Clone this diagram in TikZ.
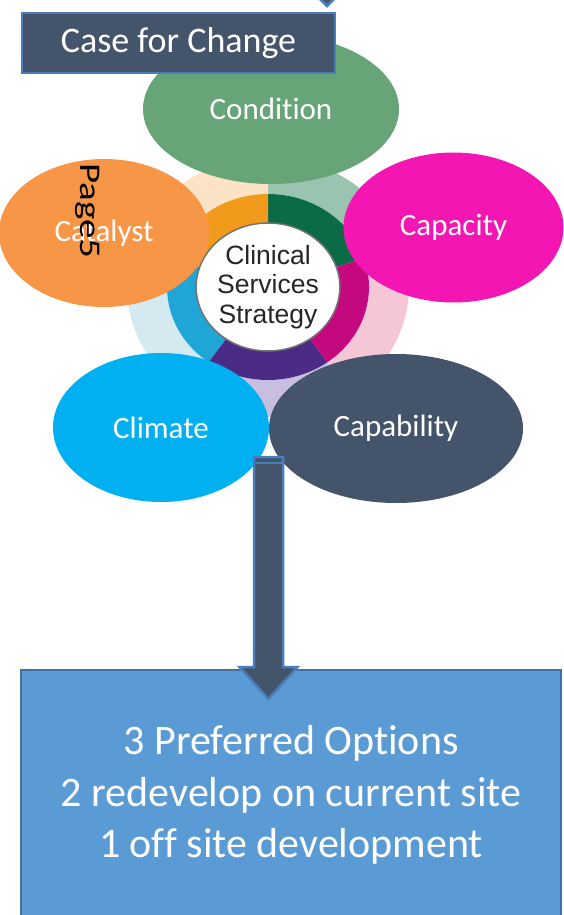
\documentclass[tikz,border=0pt]{standalone}
\usepackage{fontspec}
\setmainfont{Carlito}[Ligatures={NoCommon}]
\newfontfamily\hubfont{Liberation Sans}
\usetikzlibrary{shapes.geometric,calc}

\definecolor{slate}{HTML}{44546A}
\definecolor{rimblue}{HTML}{4A7EBB}
\definecolor{boxblue}{HTML}{5B9BD5}
\definecolor{boxrim}{HTML}{41719C}
\definecolor{condgreen}{HTML}{67A578}
\definecolor{catorange}{HTML}{F79646}
\definecolor{capmagenta}{HTML}{F316B2}
\definecolor{climcyan}{HTML}{00B0F0}
\definecolor{deepgreen}{HTML}{0A6B46}
\definecolor{deeporange}{HTML}{F29A1C}
\definecolor{deepcyan}{HTML}{20A6D6}
\definecolor{deeppurple}{HTML}{4A2C86}
\definecolor{deepmagenta}{HTML}{C4097E}
\definecolor{palegreen}{HTML}{98C4B0}
\definecolor{paleorange}{HTML}{FCE3C6}
\definecolor{palecyan}{HTML}{D4E9F0}
\definecolor{palepurple}{HTML}{C8BFE0}
\definecolor{palepink}{HTML}{F5C7D6}

\tikzset{
	bubble/.style={ellipse, inner sep=0pt, text=white, font=\fontsize{31}{37}\selectfont},
	casebox/.style={rectangle, fill=slate, draw=rimblue, line width=2pt, text=white,
		minimum width=313pt, minimum height=60pt, font=\fontsize{36}{40}\selectfont},
	optbox/.style={rectangle, fill=boxblue, draw=boxrim, line width=2pt, text=white, align=center,
		minimum width=540pt, minimum height=250pt, font=\fontsize{42}{51.5}\selectfont},
	blockarrow/.style={fill=slate, draw=rimblue, line width=2.5pt, line join=miter}
}

\begin{document}
\begin{tikzpicture}[x=1pt, y=1pt]
	\useasboundingbox (0,0) rectangle (564,-915);
	\clip (0,0) rectangle (564,-915);
	\coordinate (ringc) at (268,-287);
	\foreach \a/\pale/\deep in {18/palegreen/deepgreen, 90/paleorange/deeporange, 162/palecyan/deepcyan, 234/palepurple/deeppurple, 306/palepink/deepmagenta} {
		\fill[\pale] ($(ringc)+(\a:141 and 130)$) arc[start angle=\a, delta angle=72, x radius=141, y radius=130]
			-- ($(ringc)+(\a+72:101 and 93)$) arc[start angle=\a+72, delta angle=-72, x radius=101, y radius=93] -- cycle;
		\fill[\deep] ($(ringc)+(\a:101 and 93)$) arc[start angle=\a, delta angle=72, x radius=101, y radius=93]
			-- ($(ringc)+(\a+72:71 and 64)$) arc[start angle=\a+72, delta angle=-72, x radius=71, y radius=64] -- cycle;
	}
	\node[ellipse, fill=white, draw=black!55, line width=1.5pt, minimum width=142pt, minimum height=128pt, inner sep=0pt,
		align=center, text=black!85, font=\hubfont\fontsize{26.5}{29.5}\selectfont] (hub) at (ringc) {Clinical\\Services\\Strategy};

	\node[bubble, fill=condgreen, minimum width=256pt, minimum height=150pt] (condition) at (271,-109) {Condition};
	\node[bubble, fill=catorange, minimum width=210pt, minimum height=148pt] (catalyst) at (104,-233) {Catalyst};
	\node[bubble, fill=capmagenta, minimum width=220pt, minimum height=150pt] (capacity) at (453.5,-227.5) {Capacity};
	\node[bubble, fill=climcyan, minimum width=216pt, minimum height=149pt] (climate) at (161,-427.5) {Climate};
	\node[bubble, fill=slate, minimum width=254pt, minimum height=149pt] (capability) at (396,-428.5) {Capability};
	\node[rotate=-90, xscale=1.3, inner sep=0pt, font=\fontsize{30}{32}\selectfont] (pagemark) at (88,-211) {Page5};

	\node[casebox] (case) at (178.5,-43) {Case for Change};
	\coordinate (feedtip) at ($(case.north east)+(-9,6)$);
	\fill[blockarrow] (feedtip) -- ++(-30,30) -- ++(60,0) -- cycle;

	\node[optbox] (options) at (291,-795) {3 Preferred Options\\2 redevelop on current site\\1 off site development};
	\coordinate (shafttop) at (268.5,-457);
	\coordinate (arrowtip) at ($(shafttop |- options.north)+(0,-30)$);
	\filldraw[blockarrow] ($(shafttop)+(-14.5,0)$) -- ($(arrowtip)+(-14.5,32)$) -- ($(arrowtip)+(-29,32)$) -- (arrowtip)
		-- ($(arrowtip)+(29,32)$) -- ($(arrowtip)+(14.5,32)$) -- ($(shafttop)+(14.5,0)$) -- cycle;
	\draw[rimblue, line width=1.5pt] ($(shafttop)+(-13,-6)$) -- ++(26,0);
\end{tikzpicture}
\end{document}
